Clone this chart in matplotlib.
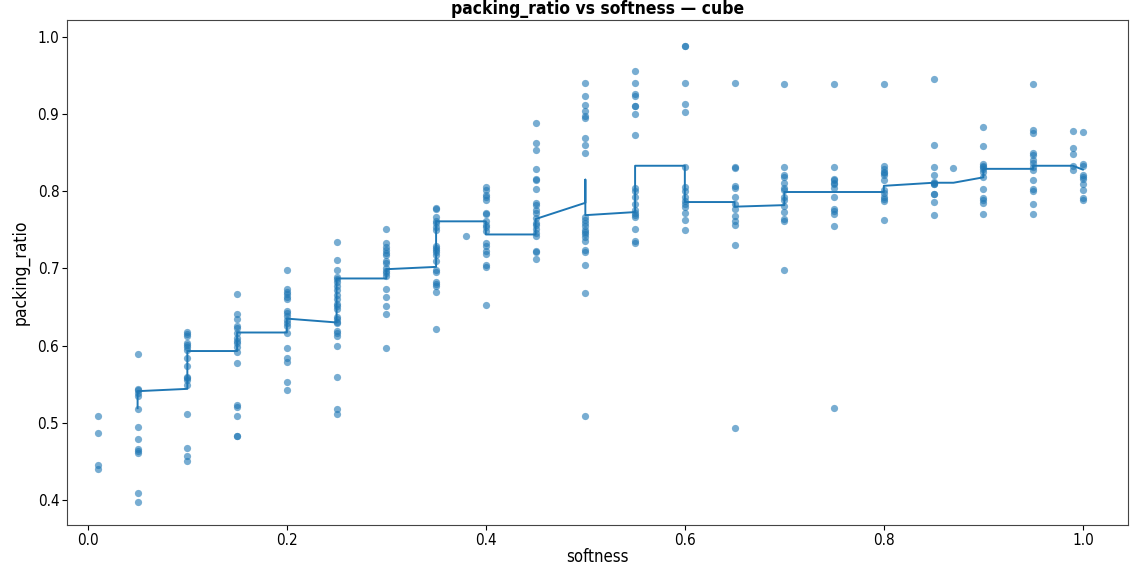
import matplotlib
matplotlib.use("Agg")
import matplotlib.pyplot as plt
import numpy as np

plt.rcParams['font.family'] = ['DejaVu Sans']
plt.rcParams['font.stretch'] = 'condensed'

# ---- data: softness -> packing_ratio observations ----
col_001 = [0.509, 0.487, 0.445, 0.440]
col_005 = [0.589, 0.544, 0.542, 0.539, 0.535, 0.518, 0.494, 0.479, 0.466, 0.463, 0.461, 0.409, 0.397]
col_010 = [0.618, 0.615, 0.612, 0.603, 0.601, 0.598, 0.594, 0.584, 0.574, 0.560, 0.558, 0.555, 0.549,
           0.511, 0.468, 0.457, 0.451]
col_015 = [0.667, 0.641, 0.635, 0.625, 0.623, 0.617, 0.610, 0.606, 0.603, 0.598, 0.592, 0.578, 0.523,
           0.521, 0.509, 0.483, 0.483]
col_020 = [0.698, 0.673, 0.670, 0.667, 0.663, 0.660, 0.645, 0.642, 0.638, 0.633, 0.629, 0.625, 0.617,
           0.597, 0.584, 0.579, 0.553, 0.542]
col_025 = [0.734, 0.711, 0.698, 0.689, 0.686, 0.683, 0.677, 0.672, 0.666, 0.661, 0.654, 0.651, 0.647,
           0.637, 0.634, 0.631, 0.629, 0.619, 0.616, 0.613, 0.600, 0.560, 0.518, 0.511]
col_030 = [0.751, 0.733, 0.728, 0.724, 0.720, 0.718, 0.710, 0.707, 0.700, 0.697, 0.694, 0.690, 0.673,
           0.663, 0.651, 0.641, 0.597]
col_035 = [0.778, 0.777, 0.766, 0.761, 0.759, 0.754, 0.750, 0.729, 0.726, 0.724, 0.721, 0.718, 0.710,
           0.698, 0.695, 0.683, 0.680, 0.677, 0.669, 0.622]
col_038 = [0.742]
col_040 = [0.805, 0.802, 0.795, 0.792, 0.788, 0.772, 0.771, 0.761, 0.756, 0.754, 0.749, 0.733, 0.729,
           0.722, 0.719, 0.705, 0.702, 0.653]
col_045 = [0.888, 0.862, 0.854, 0.829, 0.816, 0.814, 0.803, 0.785, 0.782, 0.776, 0.772, 0.765, 0.759,
           0.756, 0.751, 0.746, 0.742, 0.722, 0.721, 0.712]
col_050 = [0.940, 0.923, 0.912, 0.904, 0.897, 0.895, 0.869, 0.860, 0.850, 0.767, 0.763, 0.759, 0.755,
           0.750, 0.747, 0.745, 0.741, 0.735, 0.724, 0.721, 0.705, 0.668, 0.509]
col_055 = [0.956, 0.940, 0.926, 0.923, 0.911, 0.910, 0.900, 0.873, 0.804, 0.800, 0.793, 0.784, 0.776,
           0.772, 0.769, 0.767, 0.751, 0.735, 0.733]
col_060 = [0.988, 0.988, 0.940, 0.913, 0.902, 0.832, 0.806, 0.800, 0.793, 0.787, 0.784, 0.780, 0.772,
           0.763, 0.750]
col_065 = [0.940, 0.832, 0.830, 0.807, 0.804, 0.793, 0.783, 0.777, 0.768, 0.761, 0.756, 0.730, 0.493]
col_070 = [0.939, 0.832, 0.821, 0.819, 0.811, 0.804, 0.801, 0.792, 0.789, 0.781, 0.773, 0.764, 0.761,
           0.698]
col_075 = [0.939, 0.832, 0.816, 0.814, 0.811, 0.810, 0.804, 0.793, 0.777, 0.775, 0.771, 0.755, 0.519]
col_080 = [0.939, 0.833, 0.829, 0.825, 0.823, 0.821, 0.814, 0.802, 0.798, 0.792, 0.790, 0.787, 0.763]
col_085 = [0.945, 0.860, 0.832, 0.821, 0.812, 0.811, 0.810, 0.809, 0.797, 0.797, 0.786, 0.769]
col_087 = [0.830]
col_090 = [0.883, 0.859, 0.835, 0.833, 0.831, 0.829, 0.825, 0.819, 0.803, 0.791, 0.789, 0.785, 0.771]
col_095 = [0.939, 0.879, 0.875, 0.850, 0.847, 0.841, 0.837, 0.831, 0.828, 0.814, 0.803, 0.800, 0.784,
           0.771]
col_099 = [0.878, 0.856, 0.848, 0.833, 0.827]
col_100 = [0.877, 0.835, 0.833, 0.821, 0.818, 0.816, 0.810, 0.802, 0.791, 0.788]

softness_levels = [0.01, 0.05, 0.10, 0.15, 0.20, 0.25, 0.30, 0.35, 0.38, 0.40, 0.45, 0.50, 0.55,
                   0.60, 0.65, 0.70, 0.75, 0.80, 0.85, 0.87, 0.90, 0.95, 0.99, 1.00]
packing_columns = [col_001, col_005, col_010, col_015, col_020, col_025, col_030, col_035, col_038,
                   col_040, col_045, col_050, col_055, col_060, col_065, col_070, col_075, col_080,
                   col_085, col_087, col_090, col_095, col_099, col_100]

# trend line vertices
line_x = [0.05, 0.05, 0.10, 0.10, 0.15, 0.15, 0.20, 0.20, 0.25, 0.25, 0.30, 0.30, 0.35, 0.35,
          0.40, 0.40, 0.45, 0.45, 0.50, 0.50, 0.50, 0.55, 0.55, 0.60, 0.60, 0.65, 0.65, 0.70,
          0.70, 0.75, 0.80, 0.80, 0.85, 0.87, 0.90, 0.90, 0.95, 0.95, 0.99, 1.00]
line_y = [0.519, 0.541, 0.544, 0.593, 0.593, 0.617, 0.617, 0.635, 0.630, 0.687, 0.687, 0.699,
          0.702, 0.761, 0.761, 0.744, 0.744, 0.764, 0.785, 0.815, 0.769, 0.773, 0.833, 0.833,
          0.786, 0.786, 0.780, 0.782, 0.799, 0.799, 0.799, 0.807, 0.811, 0.811, 0.818, 0.829,
          0.829, 0.833, 0.833, 0.828]

xs = np.concatenate([[s] * len(c) for s, c in zip(softness_levels, packing_columns)])
ys = np.concatenate(packing_columns)

fig = plt.figure(figsize=(11.31, 5.67), dpi=100)
ax = fig.add_axes([0.0592, 0.074, 0.9378, 0.891])

ax.scatter(xs, ys, s=27, color='#1f77b4', alpha=0.6, linewidths=0)
ax.plot(line_x, line_y, color='#1f77b4', linewidth=1.4)

ax.set_xlim(-0.021, 1.045)
ax.set_ylim(0.3676, 1.022)
ax.set_xticks([0.0, 0.2, 0.4, 0.6, 0.8, 1.0])
ax.set_yticks([0.4, 0.5, 0.6, 0.7, 0.8, 0.9, 1.0])
ax.tick_params(labelsize=11, length=3.5, pad=2)

ax.set_title('packing_ratio vs softness — cube', fontsize=12.5, fontweight='bold', pad=4)
ax.set_xlabel('softness', fontsize=12, labelpad=0)
ax.set_ylabel('packing_ratio', fontsize=12.5, labelpad=6)
for sp in ax.spines.values():
    sp.set_color('#444444')

fig.savefig('out.png', dpi=100)
